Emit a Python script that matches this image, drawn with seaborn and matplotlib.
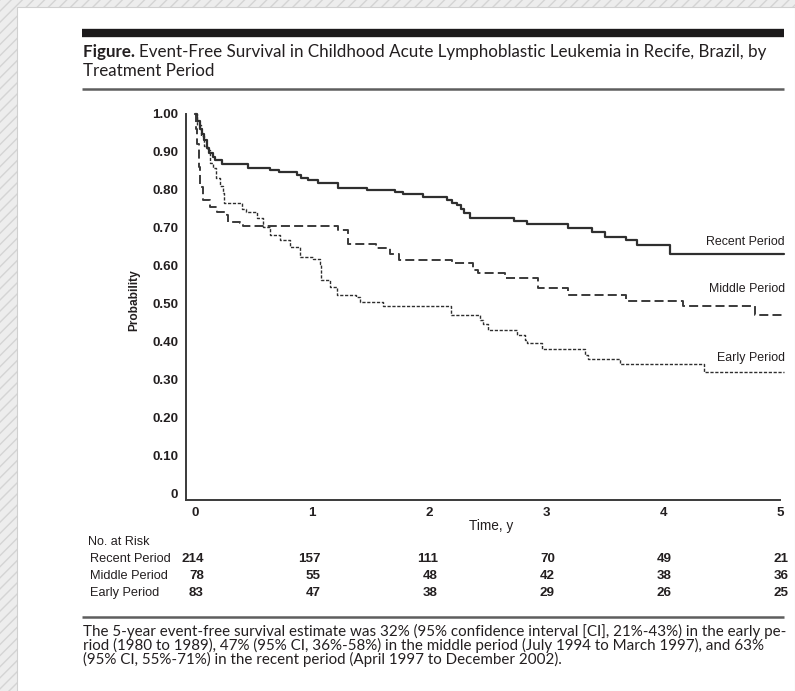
import matplotlib
matplotlib.use("Agg")
import numpy as np
import pandas as pd
import seaborn as sns
import matplotlib.pyplot as plt
from matplotlib.patches import Rectangle
from matplotlib.lines import Line2D
from matplotlib.transforms import blended_transform_factory

# ---- Kaplan-Meier step estimates (time in years, event-free probability) ----
recent_t = [0, 0.02, 0.04, 0.06, 0.08, 0.10, 0.12, 0.15, 0.17, 0.23, 0.45, 0.64,
            0.72, 0.87, 0.91, 0.97, 1.05, 1.22, 1.47, 1.71, 1.78, 1.95, 2.15,
            2.20, 2.24, 2.27, 2.30, 2.35, 2.73, 2.84, 3.19, 3.39, 3.50, 3.68,
            3.78, 4.06, 5.03]
recent_s = [1.0, 0.98, 0.96, 0.945, 0.93, 0.91, 0.895, 0.885, 0.877, 0.866,
            0.856, 0.851, 0.846, 0.838, 0.829, 0.825, 0.816, 0.805, 0.800,
            0.794, 0.787, 0.780, 0.772, 0.765, 0.758, 0.748, 0.738, 0.726,
            0.717, 0.709, 0.700, 0.688, 0.675, 0.667, 0.653, 0.63, 0.63]

middle_t = [0, 0.01, 0.02, 0.03, 0.04, 0.07, 0.13, 0.185, 0.27, 0.28, 0.385,
            0.41, 1.225, 1.31, 1.55, 1.67, 1.74, 2.20, 2.38, 2.42, 2.65, 2.93,
            3.19, 3.68, 4.17, 4.79, 5.03]
middle_s = [1.0, 0.96, 0.92, 0.86, 0.807, 0.772, 0.754, 0.741, 0.732, 0.715,
            0.711, 0.703, 0.693, 0.656, 0.645, 0.631, 0.614, 0.607, 0.588,
            0.579, 0.566, 0.542, 0.522, 0.507, 0.493, 0.47, 0.47]

early_t = [0, 0.02, 0.05, 0.08, 0.10, 0.13, 0.15, 0.18, 0.21, 0.24, 0.25, 0.40,
           0.44, 0.53, 0.58, 0.64, 0.73, 0.81, 0.90, 1.01, 1.07, 1.08, 1.15,
           1.21, 1.38, 1.41, 1.61, 2.19, 2.44, 2.46, 2.50, 2.75, 2.82, 2.84,
           2.97, 3.33, 3.36, 3.63, 4.35, 5.03]
early_s = [1.0, 0.97, 0.94, 0.915, 0.903, 0.869, 0.857, 0.83, 0.81, 0.79, 0.764,
           0.75, 0.741, 0.724, 0.702, 0.68, 0.667, 0.649, 0.623, 0.618, 0.605,
           0.561, 0.544, 0.522, 0.517, 0.504, 0.493, 0.469, 0.456, 0.446, 0.43,
           0.417, 0.405, 0.395, 0.381, 0.364, 0.355, 0.342, 0.32, 0.32]

periods = ["Recent Period", "Middle Period", "Early Period"]
label_y = [0.663, 0.538, 0.357]

# ---- number at risk table ----
risk_times = [0, 1, 2, 3, 4, 5]
risk_recent = [214, 157, 111, 70, 49, 21]
risk_middle = [78, 55, 48, 42, 38, 36]
risk_early = [83, 47, 38, 29, 26, 25]

y_ticks = [0, 0.1, 0.2, 0.3, 0.4, 0.5, 0.6, 0.7, 0.8, 0.9, 1.0]
y_tick_labels = ["0", "0.10", "0.20", "0.30", "0.40", "0.50", "0.60", "0.70",
                 "0.80", "0.90", "1.00"]
x_ticks = [0, 1, 2, 3, 4, 5]

title_bold = "Figure."
title_line1 = "Event-Free Survival in Childhood Acute Lymphoblastic Leukemia in Recife, Brazil, by"
title_line2 = "Treatment Period"
footnote_lines = [
    "The 5-year event-free survival estimate was 32% (95% confidence interval [CI], 21%-43%) in the early pe-",
    "riod (1980 to 1989), 47% (95% CI, 36%-58%) in the middle period (July 1994 to March 1997), and 63%",
    "(95% CI, 55%-71%) in the recent period (April 1997 to December 2002).",
]

# ---- styling ----
sns.set_theme(style="white")
plt.rcParams["font.family"] = ["Liberation Sans", "DejaVu Sans"]
plt.rcParams["lines.scale_dashes"] = False
plt.rcParams["hatch.linewidth"] = 1.0
INK = "#231f20"
PAGE_FONT = ["Lato", "DejaVu Sans"]
CHART_FS = 9.0

W, H = 795, 691
fig = plt.figure(figsize=(W / 100, H / 100), dpi=100)
fig.patch.set_facecolor("#ececec")


def fx(px):
    return px / W


def fy(py):
    return 1 - py / H


# hatched surround and white page
fig.add_artist(Rectangle((0, 0), 1, 1, transform=fig.transFigure,
                         facecolor="#ededed", edgecolor="#d4d4d4", hatch="///",
                         lw=0, zorder=-10))
fig.add_artist(Rectangle((fx(17), 0), 1 - fx(17), fy(7), transform=fig.transFigure,
                         facecolor="white", edgecolor="#d0d0d0", lw=0.8, zorder=-9))

# rules
fig.add_artist(Line2D([fx(82), fx(784)], [fy(33), fy(33)], transform=fig.transFigure,
                      color="#1c1a1b", lw=6.0, solid_capstyle="butt"))
fig.add_artist(Line2D([fx(82), fx(784)], [fy(89), fy(89)], transform=fig.transFigure,
                      color="#5e5e5e", lw=1.8, solid_capstyle="butt"))
fig.add_artist(Line2D([fx(82), fx(784)], [fy(617), fy(617)], transform=fig.transFigure,
                      color="#5e5e5e", lw=1.8, solid_capstyle="butt"))

renderer = fig.canvas.get_renderer()


def text_width(s, **kw):
    t = fig.text(0, 0, s, **kw)
    w = t.get_window_extent(renderer).width
    t.remove()
    return w


# title
ref = 10
wb = text_width(title_bold + " ", family=PAGE_FONT, weight="bold", fontsize=ref)
wr = text_width(title_line1, family=PAGE_FONT, fontsize=ref)
tsize = ref * (768 - 83) / (wb + wr)
tb = fig.text(fx(83), fy(57), title_bold + " ", family=PAGE_FONT, weight="bold",
              fontsize=tsize, color=INK, va="baseline")
wb_px = tb.get_window_extent(renderer).width
fig.text(fx(83 + wb_px), fy(57), title_line1, family=PAGE_FONT, fontsize=tsize,
         color=INK, va="baseline")
fig.text(fx(83), fy(76), title_line2, family=PAGE_FONT, fontsize=tsize,
         color=INK, va="baseline")

# footnote
wf = text_width(footnote_lines[0], family=PAGE_FONT, fontsize=ref)
fsize = ref * (783 - 83) / wf
for i, line in enumerate(footnote_lines):
    fig.text(fx(83), fy(636 + 14 * i), line, family=PAGE_FONT, fontsize=fsize,
             color=INK, va="baseline")

# ---- survival plot ----
ax = fig.add_axes([fx(186), fy(499.5), fx(780) - fx(186), fy(113.5) - fy(499.5)])
ax.set_facecolor("none")

curves = pd.concat([
    pd.DataFrame({"time": recent_t, "prob": recent_s, "period": periods[0]}),
    pd.DataFrame({"time": middle_t, "prob": middle_s, "period": periods[1]}),
    pd.DataFrame({"time": early_t, "prob": early_s, "period": periods[2]}),
], ignore_index=True)

line_styles = {
    "Recent Period": dict(color="#2f2f2f", lw=1.6, dashes=None),
    "Middle Period": dict(color="#3a3a3a", lw=1.4, dashes=(6.5, 3.0)),
    "Early Period": dict(color="#2e2e2e", lw=1.0, dashes=(2.3, 1.2)),
}

for name in periods:
    sub = curves[curves["period"] == name]
    st = line_styles[name]
    sns.lineplot(x=sub["time"].to_numpy(), y=sub["prob"].to_numpy(), ax=ax,
                 color=st["color"], linewidth=st["lw"], drawstyle="steps-post",
                 estimator=None, sort=False, legend=False)
    ln = ax.lines[-1]
    ln.set_clip_on(False)
    if st["dashes"] is not None:
        ln.set_dashes(st["dashes"])

for name, yv in zip(periods, label_y):
    ax.text(5.04, yv, name, ha="right", va="center", fontsize=8.9,
            color=INK, clip_on=False)

ax.set_xlim(-9 / 117, 5.0)
ax.set_ylim(-6 / 380, 1.0)
ax.set_xticks(x_ticks)
ax.set_xticklabels([str(t) for t in x_ticks])
ax.set_yticks(y_ticks)
ax.set_yticklabels(y_tick_labels)
ax.set_xlabel("")
ax.set_ylabel("")
ax.tick_params(axis="both", direction="out", length=3.5, width=1.1,
               color="#333333", labelsize=9.6, labelcolor=INK, pad=2)
for lab in ax.get_xticklabels() + ax.get_yticklabels():
    lab.set_fontweight("bold")
for side in ("top", "right"):
    ax.spines[side].set_visible(False)
for side in ("left", "bottom"):
    ax.spines[side].set_color("#3a3a3a")
    ax.spines[side].set_linewidth(1.4)

fig.text(fx(134), fy(300), "Probability", rotation=90, ha="center", va="center",
         fontsize=8.6, color=INK, weight="bold")
fig.text(fx(491), fy(526), "Time, y", ha="center", va="center", fontsize=9.8,
         color=INK)

# number at risk
risk_tr = blended_transform_factory(ax.transData, fig.transFigure)
fig.text(fx(88), fy(542), "No. at Risk", ha="left", va="center", fontsize=CHART_FS,
         color=INK)
rows = [(periods[0], risk_recent), (periods[1], risk_middle), (periods[2], risk_early)]
for i, (name, counts) in enumerate(rows):
    yy = fy(559 + 17 * i)
    fig.text(fx(90), yy, name, ha="left", va="center", fontsize=9.2, color=INK)
    for t, n in zip(risk_times, counts):
        ax.text(t + 0.075, yy, str(n), transform=risk_tr, ha="right", va="center",
                fontsize=9.6, color=INK, weight="bold", clip_on=False)

fig.savefig("out.png", dpi=100, facecolor=fig.get_facecolor())
